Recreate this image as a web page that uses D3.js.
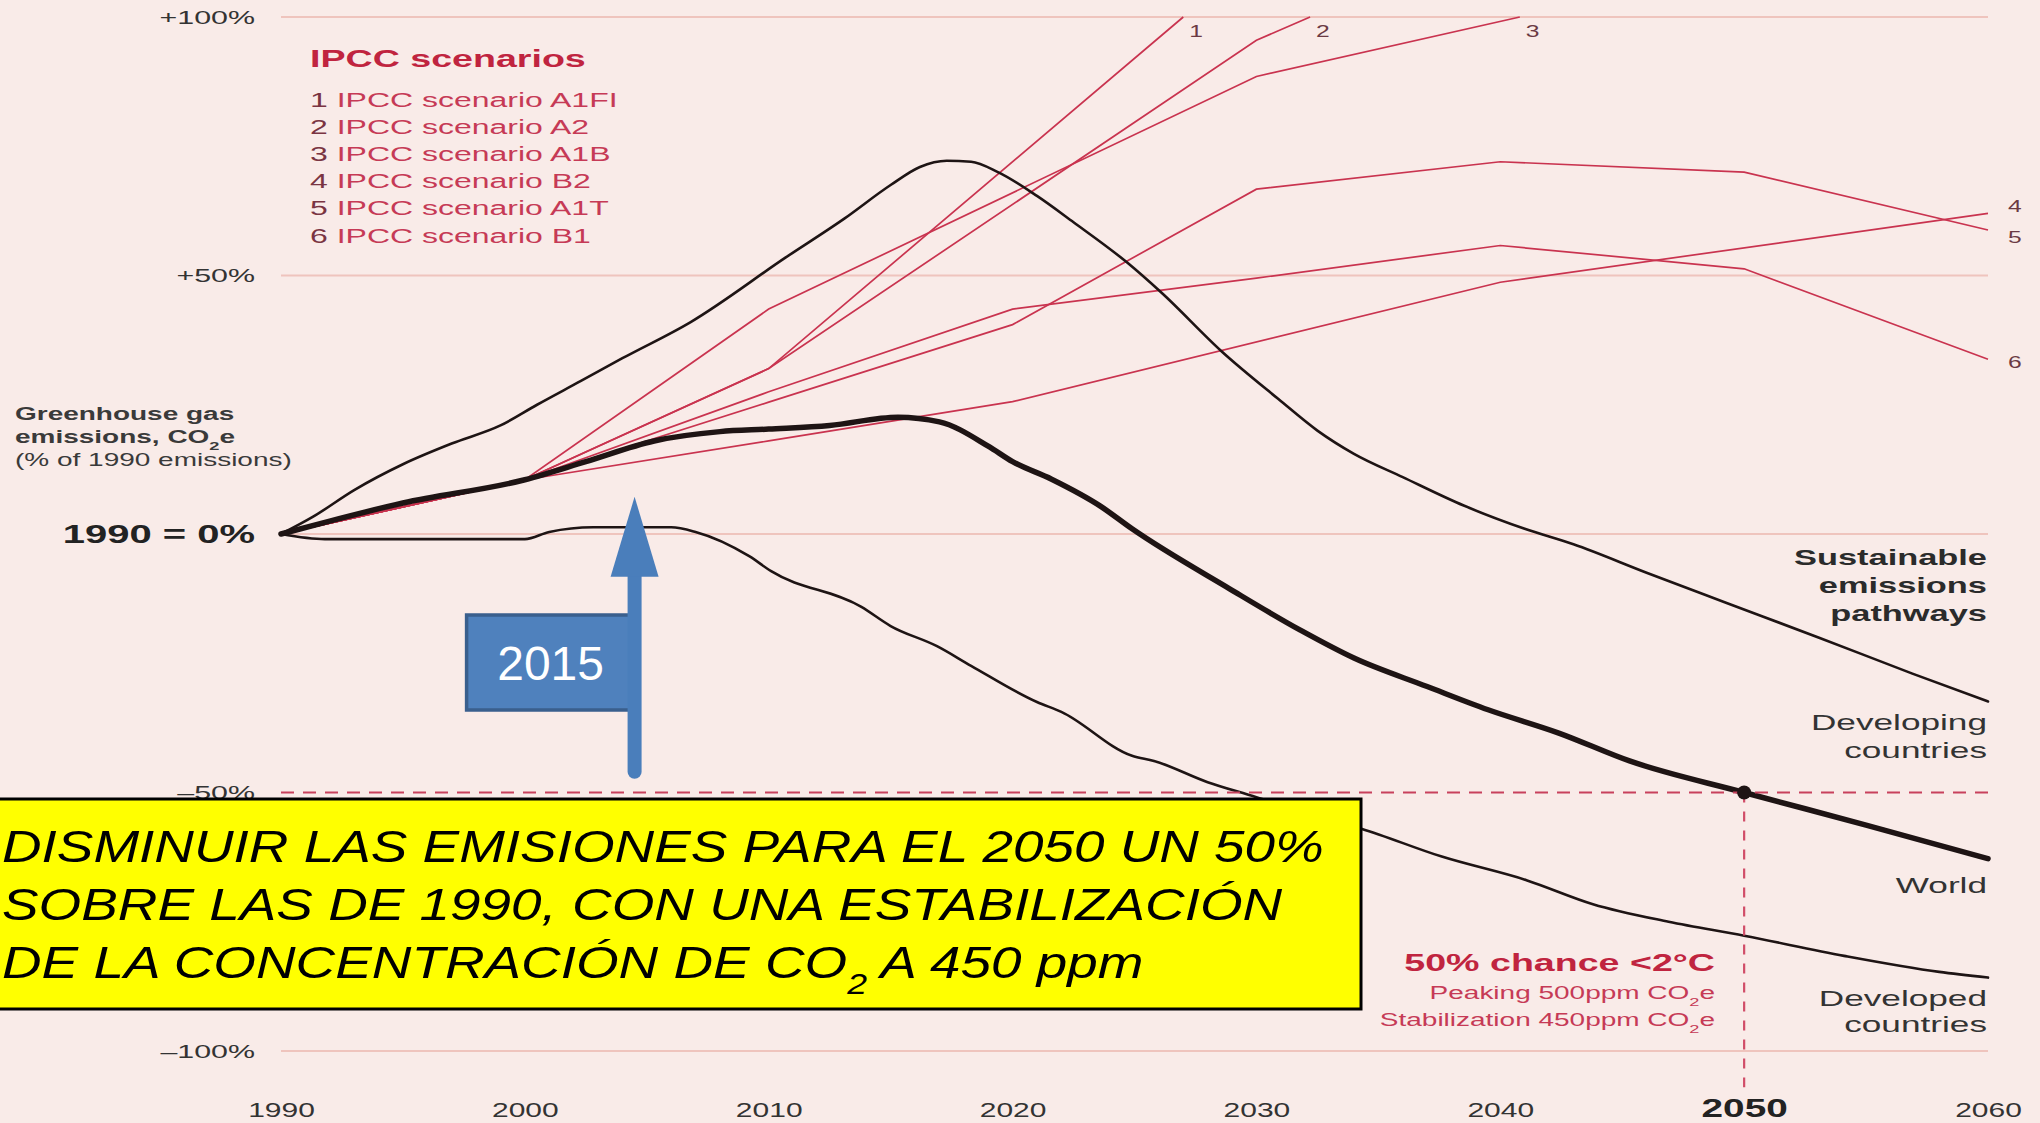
<!DOCTYPE html>
<html>
<head>
<meta charset="utf-8">
<script src="https://cdn.jsdelivr.net/npm/d3@7"></script>
<style>
  html, body { margin: 0; padding: 0; background: #f9ebe8; overflow: hidden; }
  svg { display: block; font-family: 'Liberation Sans', Arial, sans-serif; }
</style>
</head>
<body>
<svg id="chart" width="2040" height="1123"></svg>
<script>
/* ════════════════════════════════════════
   데이터 (그림에서 읽은 값, % of 1990)
════════════════════════════════════════ */
const decades     = [1990, 2000, 2010, 2020, 2030, 2040, 2050, 2060];
const yTicks      = [100, 50, 0, -50, -100];
const yTickLabels = ['+100%', '+50%', '1990 = 0%', '\u201350%', '\u2013100%'];

// 지속가능 배출 경로 (검은 선)
const developing = [[1990,0],[1991.3,3.3],[1993,8.5],[1995,13.5],[1997,17.5],[1999,21],[2000.5,25],
  [2002.3,29.6],[2004,34],[2006.8,41],[2010.7,53.5],[2013.1,61],[2015,67.5],[2016.2,71],
  [2017.3,72.2],[2018.3,72],[2019.4,70],[2021,65.4],[2022.5,60.3],[2024.7,52.5],[2026.1,46.7],
  [2028.6,35.2],[2030.9,26.1],[2032.5,20],[2034,15.5],[2036,11],[2038.5,5.5],[2041,1],[2043,-2],
  [2046,-7.5],[2049.2,-13.2],[2053.1,-20.1],[2056.9,-27],[2060,-32.4]];
const world = [[1990,0],[1992,2.5],[1995,6],[2000,10.5],[2002.5,14],[2005.3,18],[2008,19.8],
  [2010,20.3],[2012.5,21],[2015.3,22.6],[2017,21.7],[2019,17],[2020,14],[2021.6,10.6],[2023.6,5.4],
  [2024.9,1],[2028.9,-10.6],[2031.8,-18.6],[2034,-24],[2037,-29.5],[2039.5,-34],[2042.4,-38.5],
  [2045.3,-43.9],[2050,-50],[2055,-56.3],[2060,-62.8]];
const developed = [[1990,0],[1991.8,-1],[2000,-1],[2001,0.4],[2002.8,1.3],[2006,1.3],[2007,0.4],
  [2009.2,-4.3],[2010.1,-7.2],[2013.8,-14.1],[2015,-17.8],[2016.9,-21.7],[2018.3,-25.5],[2021,-32.5],
  [2022,-34.4],[2024.9,-42.9],[2025.8,-43.9],[2028,-48],[2030,-50.9],[2032,-54],[2034.3,-57],
  [2037.6,-62.4],[2041.1,-67],[2043.8,-71.6],[2046.9,-75],[2050,-77.7],[2054.1,-81.6],[2058,-84.7],
  [2060,-85.8]];

// IPCC 시나리오 (붉은 선)
const scenarioNames = ['A1FI', 'A2', 'A1B', 'B2', 'A1T', 'B1'];
const a1fi = [[1990,0],[2000,10.5],[2010,32],[2027,100]];
const a2   = [[1990,0],[2000,10.5],[2010,32],[2030,95.5],[2032.2,100]];
const a1b  = [[1990,0],[2000,10.5],[2010,43.5],[2030,88.5],[2040.8,100]];
const b2   = [[1990,0],[2000,10.5],[2010,18],[2020,25.6],[2040,48.7],[2060,62]];
const a1t  = [[1990,0],[2000,10.5],[2010,25.5],[2020,40.5],[2030,66.7],[2040,72],[2050,70],[2060,58.8]];
const b1   = [[1990,0],[2000,10.5],[2010,27.5],[2020,43.5],[2030,49.5],[2040,55.8],[2050,51.3],[2060,33.8]];
const scenarios = [a1fi, a2, a1b, b2, a1t, b1];

// 목표점 & 덧붙인 화살표
const target      = [2050, -50];
const arrowYear   = 2004.5;
const arrowRange  = [-46, 7.2];
const noteLines   = ['DISMINUIR LAS EMISIONES PARA EL 2050 UN 50%',
                     'SOBRE LAS DE 1990, CON UNA ESTABILIZACIÓN'];

/* ════════════════════════════════════════
   스케일
════════════════════════════════════════ */
const SX  = 1.6;   // 원본 글자는 가로로 늘어나 있음
const RED = '#c9334f';
const GRID = '#efc4bd';

const svg = d3.select('#chart');
const x = d3.scaleLinear().domain([1990, 2060]).range([281, 1988]);
const y = d3.scaleLinear().domain([-100, 100]).range([1051, 17]);
const line = d3.line().x(d => x(d[0])).y(d => y(d[1]));
const smooth = d3.line().x(d => x(d[0])).y(d => y(d[1])).curve(d3.curveMonotoneX);

svg.append('rect').attr('width', 2040).attr('height', 1123).attr('fill', '#f9ebe8');

function stext(parent, px, py, str, o = {}) {
  return parent.append('text')
    .attr('transform', `translate(${px},${py}) scale(${o.sx || SX},1)`)
    .attr('text-anchor', o.anchor || 'start')
    .attr('font-size', o.size || 20)
    .attr('font-weight', o.bold ? 700 : 400)
    .attr('fill', o.color || '#2b2b2b')
    .text(str);
}
function sub(t, s) {
  t.append('tspan').attr('baseline-shift', 'sub').attr('font-size', '65%').text(s);
}

// 그리드
svg.append('g').selectAll('line')
  .data(yTicks.filter(d => d !== -50)).join('line')
  .attr('x1', x(1990)).attr('x2', x(2060))
  .attr('y1', d => y(d)).attr('y2', d => y(d))
  .attr('stroke', GRID).attr('stroke-width', 2);

// 축 라벨
const gy = svg.append('g').attr('transform', 'translate(263,0)')
  .call(d3.axisLeft(y).tickValues(yTicks).tickSize(0).tickPadding(5)
    .tickFormat(d => yTickLabels[yTicks.indexOf(d)]));
gy.attr('font-family', null).attr('font-size', null);
gy.select('.domain').remove();
gy.selectAll('text')
  .attr('transform', `scale(${SX},1)`)
  .attr('font-size', d => d === 0 ? 25 : 19)
  .attr('font-weight', d => d === 0 ? 700 : 400)
  .attr('fill', d => d === 0 ? '#222' : '#333');

const gx = svg.append('g').attr('transform', 'translate(0,1117)')
  .call(d3.axisBottom(x).tickValues(decades).tickSize(0).tickPadding(0).tickFormat(d3.format('d')));
gx.attr('font-family', null).attr('font-size', null);
gx.select('.domain').remove();
gx.selectAll('text')
  .attr('dy', null)
  .attr('transform', d => `scale(${d === 2050 ? 1.55 : 1.5},1)`)
  .attr('font-size', d => d === 2050 ? 25 : 20)
  .attr('font-weight', d => d === 2050 ? 700 : 400)
  .attr('fill', d => d === 2050 ? '#222' : '#333');

// 시나리오 선
svg.append('g').selectAll('path')
  .data(scenarios).join('path')
  .attr('d', line)
  .attr('fill', 'none').attr('stroke', RED).attr('stroke-width', 1.7);

// 시나리오 끝 번호
const numOffset = [[6, 20], [6, 20], [6, 20], [20, -1], [20, 13], [20, 9]];
const gNum = svg.append('g');
scenarios.forEach((s, i) => {
  const last = s[s.length - 1];
  stext(gNum, x(last[0]) + numOffset[i][0], y(last[1]) + numOffset[i][1], String(i + 1),
    { size: 17, color: '#6b3a44', sx: 1.45 });
});

// 검은 선
const black = [[developing, 2.6], [developed, 2.6], [world, 5.5]];
svg.append('g').selectAll('path')
  .data(black).join('path')
  .attr('d', d => smooth(d[0]))
  .attr('fill', 'none').attr('stroke', '#1e1414')
  .attr('stroke-width', d => d[1]).attr('stroke-linejoin', 'round').attr('stroke-linecap', 'round');

// -50% 점선과 2050 수직 점선
svg.append('line')
  .attr('x1', x(1990)).attr('x2', x(2060)).attr('y1', y(-50)).attr('y2', y(-50))
  .attr('stroke', '#c8415c').attr('stroke-width', 2.2).attr('stroke-dasharray', '13,9');
svg.append('line')
  .attr('x1', x(2050)).attr('x2', x(2050)).attr('y1', y(-50)).attr('y2', y(-107))
  .attr('stroke', '#d14d68').attr('stroke-width', 2.2).attr('stroke-dasharray', '10,9');
svg.append('circle')
  .attr('cx', x(target[0])).attr('cy', y(target[1])).attr('r', 7).attr('fill', '#1e1414');

// 범례
const gl = svg.append('g');
stext(gl, 310, 67, 'IPCC scenarios', { size: 23.5, bold: true, color: '#c0243f' });
scenarioNames.forEach((n, i) => {
  const t = stext(gl, 310, 107 + i * 27.1, '', { size: 20, color: '#c63a56' });
  t.append('tspan').attr('fill', '#7a3442').text((i + 1) + ' ');
  t.append('tspan').text('IPCC scenario ' + n);
});

// Y 제목
const gt = svg.append('g');
stext(gt, 15, 420, 'Greenhouse gas', { size: 17.5, bold: true, color: '#3a3a3a' });
const t2 = stext(gt, 15, 443, 'emissions, CO', { size: 17.5, bold: true, color: '#3a3a3a' });
sub(t2, '2'); t2.append('tspan').text('e');
stext(gt, 15, 466, '(% of 1990 emissions)', { size: 17.5, color: '#3a3a3a' });

// 오른쪽 라벨
const gr = svg.append('g');
[['Sustainable', 565], ['emissions', 593], ['pathways', 621]].forEach(([s, py]) =>
  stext(gr, 1987, py, s, { size: 21.5, bold: true, anchor: 'end' }));
[['Developing', 730], ['countries', 758], ['World', 893], ['Developed', 1006], ['countries', 1032]]
  .forEach(([s, py]) => stext(gr, 1987, py, s, { size: 22, anchor: 'end', color: '#333' }));

// 2°C 주석
stext(gr, 1715, 971, '50% chance <2\u00B0C', { size: 23.5, bold: true, anchor: 'end', color: '#c0243f' });
const p1 = stext(gr, 1715, 999, 'Peaking 500ppm CO', { size: 17.5, anchor: 'end', color: '#c63a56' });
sub(p1, '2'); p1.append('tspan').text('e');
const p2 = stext(gr, 1715, 1026, 'Stabilization 450ppm CO', { size: 17.5, anchor: 'end', color: '#c63a56' });
sub(p2, '2'); p2.append('tspan').text('e');

// 파란 화살표 + 2015 상자
const ax = x(arrowYear);
const ga = svg.append('g');
ga.append('rect')
  .attr('x', ax - 168).attr('y', 615).attr('width', 168).attr('height', 95)
  .attr('fill', '#4f81bd').attr('stroke', '#3a5f8d').attr('stroke-width', 3.5);
ga.append('text')
  .attr('x', ax - 84).attr('y', 680).attr('text-anchor', 'middle')
  .attr('font-size', 48).attr('fill', '#fff').text('2015');
const tipY = y(arrowRange[1]);
ga.append('line')
  .attr('x1', ax).attr('x2', ax).attr('y1', y(arrowRange[0])).attr('y2', tipY + 60)
  .attr('stroke', '#4a7ebb').attr('stroke-width', 14).attr('stroke-linecap', 'round');
ga.append('path')
  .attr('d', `M${ax},${tipY} L${ax + 24},${tipY + 80} L${ax - 24},${tipY + 80} Z`)
  .attr('fill', '#4a7ebb');

// 노란 상자
const gn = svg.append('g');
gn.append('rect')
  .attr('x', -6).attr('y', 799).attr('width', 1367).attr('height', 210)
  .attr('fill', '#ffff00').attr('stroke', '#000').attr('stroke-width', 3);
const nt = [];
noteLines.forEach((s, i) => {
  nt.push(gn.append('text').attr('y', 862 + i * 58).attr('font-size', 44)
    .attr('font-style', 'italic').attr('fill', '#000').text(s));
});
const l3 = gn.append('text').attr('y', 978).attr('font-size', 44)
  .attr('font-style', 'italic').attr('fill', '#000').text('DE LA CONCENTRACIÓN DE CO');
sub(l3, '2');
l3.append('tspan').text(' A 450 ppm');
nt.push(l3);
const ns = 1322 / nt[0].node().getComputedTextLength();
nt.forEach(t => t.attr('transform', `translate(2,0) scale(${ns},1)`));
</script>
</body>
</html>
